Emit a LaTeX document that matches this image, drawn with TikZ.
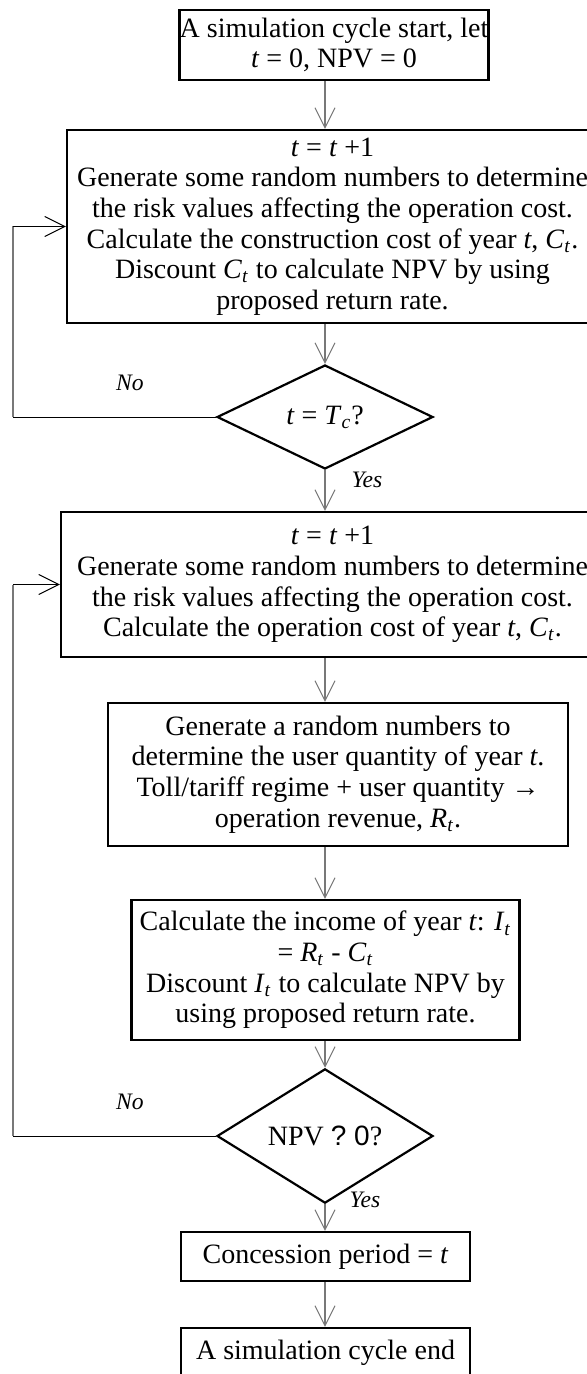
\documentclass[tikz,border=0pt]{standalone}
\usepackage{fontspec}
\setmainfont{Liberation Serif}
\newfontfamily\arialfont{Liberation Sans}
\usepackage{tikz}
\usetikzlibrary{arrows.meta, shapes.geometric, positioning, calc}
\definecolor{linegray}{RGB}{120,120,120}
\newcommand{\vart}[1]{\textit{#1}\textsubscript{\textit{t}}}

\begin{document}
\begin{tikzpicture}[x=0.5pt, y=-0.5pt,
    every node/.style={font=\fontsize{14}{15.3}\selectfont, align=center,
                       inner sep=0pt},
    stepbox/.style={rectangle, draw, line width=1.2pt},
    decide/.style={diamond, draw, line width=1.1pt, minimum width=108pt,
                   minimum height=52pt},
    flow/.style={draw=linegray, line width=0.6pt,
                 -{Straight Barb[length=10pt, width=10pt, line width=0.5pt]}},
    loopback/.style={draw=black, line width=0.5pt},
    lbl/.style={font=\fontsize{11.8}{14}\selectfont\itshape}
  ]
  \useasboundingbox (0,0) rectangle (587,1374);
  \clip (0,0) rectangle (587,1374);
  \coordinate (axis) at (325,0);
  \coordinate (loopx) at (13,0);

  \node[stepbox, minimum width=154pt, minimum height=35pt] (start) at (334,45)
    {A simulation cycle start, let\\ \textit{t} = 0, NPV = 0};
  \node[stepbox, minimum width=265.5pt, minimum height=96.5pt] (constr) at (332.5,226.5)
    {\textit{t} = \textit{t} +1\\
     Generate some random numbers to determine\\
     the risk values affecting the operation cost.\\
     Calculate the construction cost of year \textit{t}, \vart{C}.\\
     Discount \vart{C} to calculate NPV by using\\
     proposed return rate.};
  \node[decide] (tc) at (325,417)
    {\textit{t} = \textit{T}\textsubscript{\textit{c}}?};
  \node[stepbox, minimum width=271.5pt, minimum height=72.5pt] (oper) at (332.5,584.5)
    {\textit{t} = \textit{t} +1\\
     Generate some random numbers to determine\\
     the risk values affecting the operation cost.\\
     Calculate the operation cost of year \textit{t}, \vart{C}.};
  \node[stepbox, minimum width=230pt, minimum height=71.5pt] (rev) at (338,774.5)
    {Generate a random numbers to\\
     determine the user quantity of year \textit{t}.\\
     Toll/tariff regime + user quantity →\\
     operation revenue, \vart{R}.};
  \node[stepbox, minimum width=194pt, minimum height=70pt] (income) at (325.5,970)
    {Calculate the income of year \textit{t}: \vart{I}\\
     = \vart{R} - \vart{C}\\
     Discount \vart{I} to calculate NPV by\\
     using proposed return rate.};
  \node[decide, minimum height=47pt] (npv) at (325,1136)
    {NPV {\arialfont ? 0}?};
  \node[stepbox, minimum width=144.5pt, minimum height=24.5pt] (period) at (325.5,1256.5)
    {Concession period = \textit{t}};
  \node[stepbox, minimum width=144.5pt, minimum height=24.5pt] (finish) at (325.5,1352.5)
    {A simulation cycle end};

  \foreach \a/\b in {start/constr, constr/tc, tc/oper, oper/rev, rev/income,
                     income/npv, npv/period, period/finish}
    \draw[flow] (\a.south -| axis) -- (\b.north -| axis);

  \draw[loopback] (tc.west) -- (tc.west -| loopx);
  \draw[draw=linegray, line width=0.6pt] (tc.west -| loopx) -- (constr.west -| loopx);
  \draw[loopback, -{Straight Barb[length=10pt, width=10pt, line width=0.5pt]}]
    (constr.west -| loopx) -- (constr.west);

  \draw[loopback] (npv.west) -- (npv.west -| loopx);
  \draw[draw=linegray, line width=0.6pt] (npv.west -| loopx) -- (oper.west -| loopx);
  \draw[loopback, -{Straight Barb[length=10pt, width=10pt, line width=0.5pt]}]
    (oper.west -| loopx) -- (oper.west);

  \node[lbl] (no1) at (130,383) {No};
  \node[lbl] (yes1) at (367,480) {Yes};
  \node[lbl] (no2) at (130,1102) {No};
  \node[lbl] (yes2) at (365,1200) {Yes};
\end{tikzpicture}
\end{document}
